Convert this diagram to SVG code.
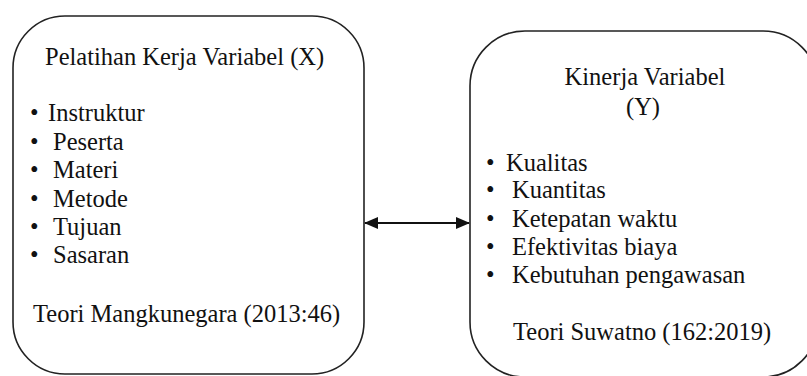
<svg xmlns="http://www.w3.org/2000/svg" width="807" height="376" viewBox="0 0 807 376">
<style>
.box{fill:#fff;stroke:#222;stroke-width:1.6}
text{font-family:'Liberation Serif','Tinos','Times New Roman','DejaVu Serif',serif;font-size:24.5px;fill:#111}
.c{text-anchor:middle}
.conn{stroke:#111;stroke-width:1.8;fill:none}
</style>
<defs>
<marker id="ah" markerUnits="userSpaceOnUse" markerWidth="14" markerHeight="12" viewBox="0 0 14 12" refX="13" refY="6" orient="auto-start-reverse">
<path d="M0,0 L14,6 L0,12 Z" fill="#111"/>
</marker>
</defs>
<rect width="807" height="376" fill="#fff"/>
<g id="node-x">
<rect class="box" x="13" y="16" width="351" height="358" rx="52" ry="52"/>
<text x="45" y="65">Pelatihan Kerja Variabel (X)</text>
<text x="30" y="121">•</text><text x="48" y="121">Instruktur</text>
<text x="30" y="150">•</text><text x="53" y="150">Peserta</text>
<text x="30" y="178">•</text><text x="53" y="178">Materi</text>
<text x="30" y="207">•</text><text x="53" y="207">Metode</text>
<text x="30" y="235">•</text><text x="53" y="235">Tujuan</text>
<text x="30" y="263">•</text><text x="53" y="263">Sasaran</text>
<text x="33" y="322">Teori Mangkunegara (2013:46)</text>
</g>
<g id="node-y">
<rect class="box" x="470" y="31" width="348" height="346" rx="55" ry="55"/>
<text class="c" x="645" y="85">Kinerja Variabel</text>
<text class="c" x="643" y="115">(Y)</text>
<text x="486" y="171">•</text><text x="506" y="171">Kualitas</text>
<text x="486" y="198">•</text><text x="512" y="198">Kuantitas</text>
<text x="486" y="227">•</text><text x="512" y="227">Ketepatan waktu</text>
<text x="486" y="255">•</text><text x="512" y="255">Efektivitas biaya</text>
<text x="486" y="283">•</text><text x="512" y="283">Kebutuhan pengawasan</text>
<text x="513" y="340">Teori Suwatno (162:2019)</text>
</g>
<g id="connectors">
<line class="conn" x1="365" y1="223" x2="469" y2="223" marker-start="url(#ah)" marker-end="url(#ah)"/>
</g>
</svg>
